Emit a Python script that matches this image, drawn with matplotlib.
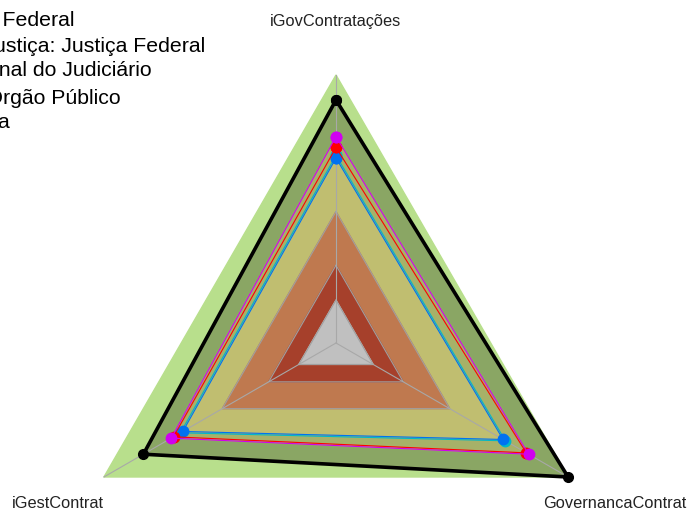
import numpy as np
import matplotlib.pyplot as plt

plt.rcParams['font.family'] = ['Liberation Sans', 'DejaVu Sans']

# axes of the radar (top, bottom-left, bottom-right)
categorias = ['iGovContratações', 'iGestContrat', 'GovernancaContrat']
angulos = np.deg2rad([90, 210, 330])

# background bands (radius of each level, fraction of the full scale)
faixas = [1.0, 0.49, 0.29, 0.16]
cores_faixas = ['#B8DF8C', '#BF794F', '#A6402B', '#C0C0C0']

# series
nomes = ['Poder Executivo Federal',
         'Segmento de Justiça: Justiça Federal',
         'Conselho Nacional do Judiciário',
         'Este Órgão Público',
         'Média']
orgao = [0.907, 0.83, 1.0]
justica = [0.77, 0.71, 0.83]
conselho = [0.73, 0.70, 0.82]
media = [0.70, 0.67, 0.73]
executivo = [0.69, 0.66, 0.72]


def xy(valores):
    v = np.asarray(valores, dtype=float)
    x = v * np.cos(angulos)
    y = v * np.sin(angulos)
    return np.append(x, x[0]), np.append(y, y[0])


fig = plt.figure(figsize=(6.89, 5.12), dpi=100)
ax = fig.add_axes([0, 0, 1, 1])
ax.set_xlim(-336 / 268, 353 / 268)
ax.set_ylim(-169 / 268, 343 / 268)
ax.axis('off')

# outer band
x, y = xy([faixas[0]] * 3)
ax.fill(x, y, color=cores_faixas[0], zorder=1)

# area fills of the series
x, y = xy(orgao)
ax.fill(x, y, color='#8AA664', zorder=2)
x, y = xy(justica)
ax.fill(x, y, color='#A7B168', zorder=2)
x, y = xy(executivo)
ax.fill(x, y, color='#C0BE70', zorder=2)

# inner bands
for r, c in zip(faixas[1:], cores_faixas[1:]):
    x, y = xy([r] * 3)
    ax.fill(x, y, color=c, zorder=3)
    ax.plot(x, y, color='#A0A0A0', lw=0.8, zorder=4)

# spokes
for a in angulos:
    ax.plot([0, np.cos(a)], [0, np.sin(a)], color='#A8A8A8', lw=0.8, zorder=4)

# series lines
for vals, cor in [(media, '#00B8C8'), (executivo, '#0072F0'),
                  (conselho, '#FF0000'), (justica, '#D000F0')]:
    x, y = xy(vals)
    ax.plot(x, y, color=cor, lw=0.8, marker='o', ms=7.5, zorder=5)
x, y = xy(orgao)
ax.plot(x, y, color='black', lw=2.6, marker='o', ms=7, zorder=6)

# axis labels
for nome, a in zip(categorias, angulos):
    ax.text(1.2 * np.cos(a), 1.2 * np.sin(a), nome, ha='center', va='center',
            fontsize=11.8, color='#222222')

# legend (cut by the left edge)
fins = [75, 205, 152, 121, 10]
linhas = [20, 46, 71, 97, 122]
for nome, xf, yl in zip(nomes, fins, linhas):
    fig.text(xf / 689, 1 - yl / 512, nome, ha='right', va='center',
             fontsize=15.3, color='black')

fig.savefig('out.png', dpi=100)
